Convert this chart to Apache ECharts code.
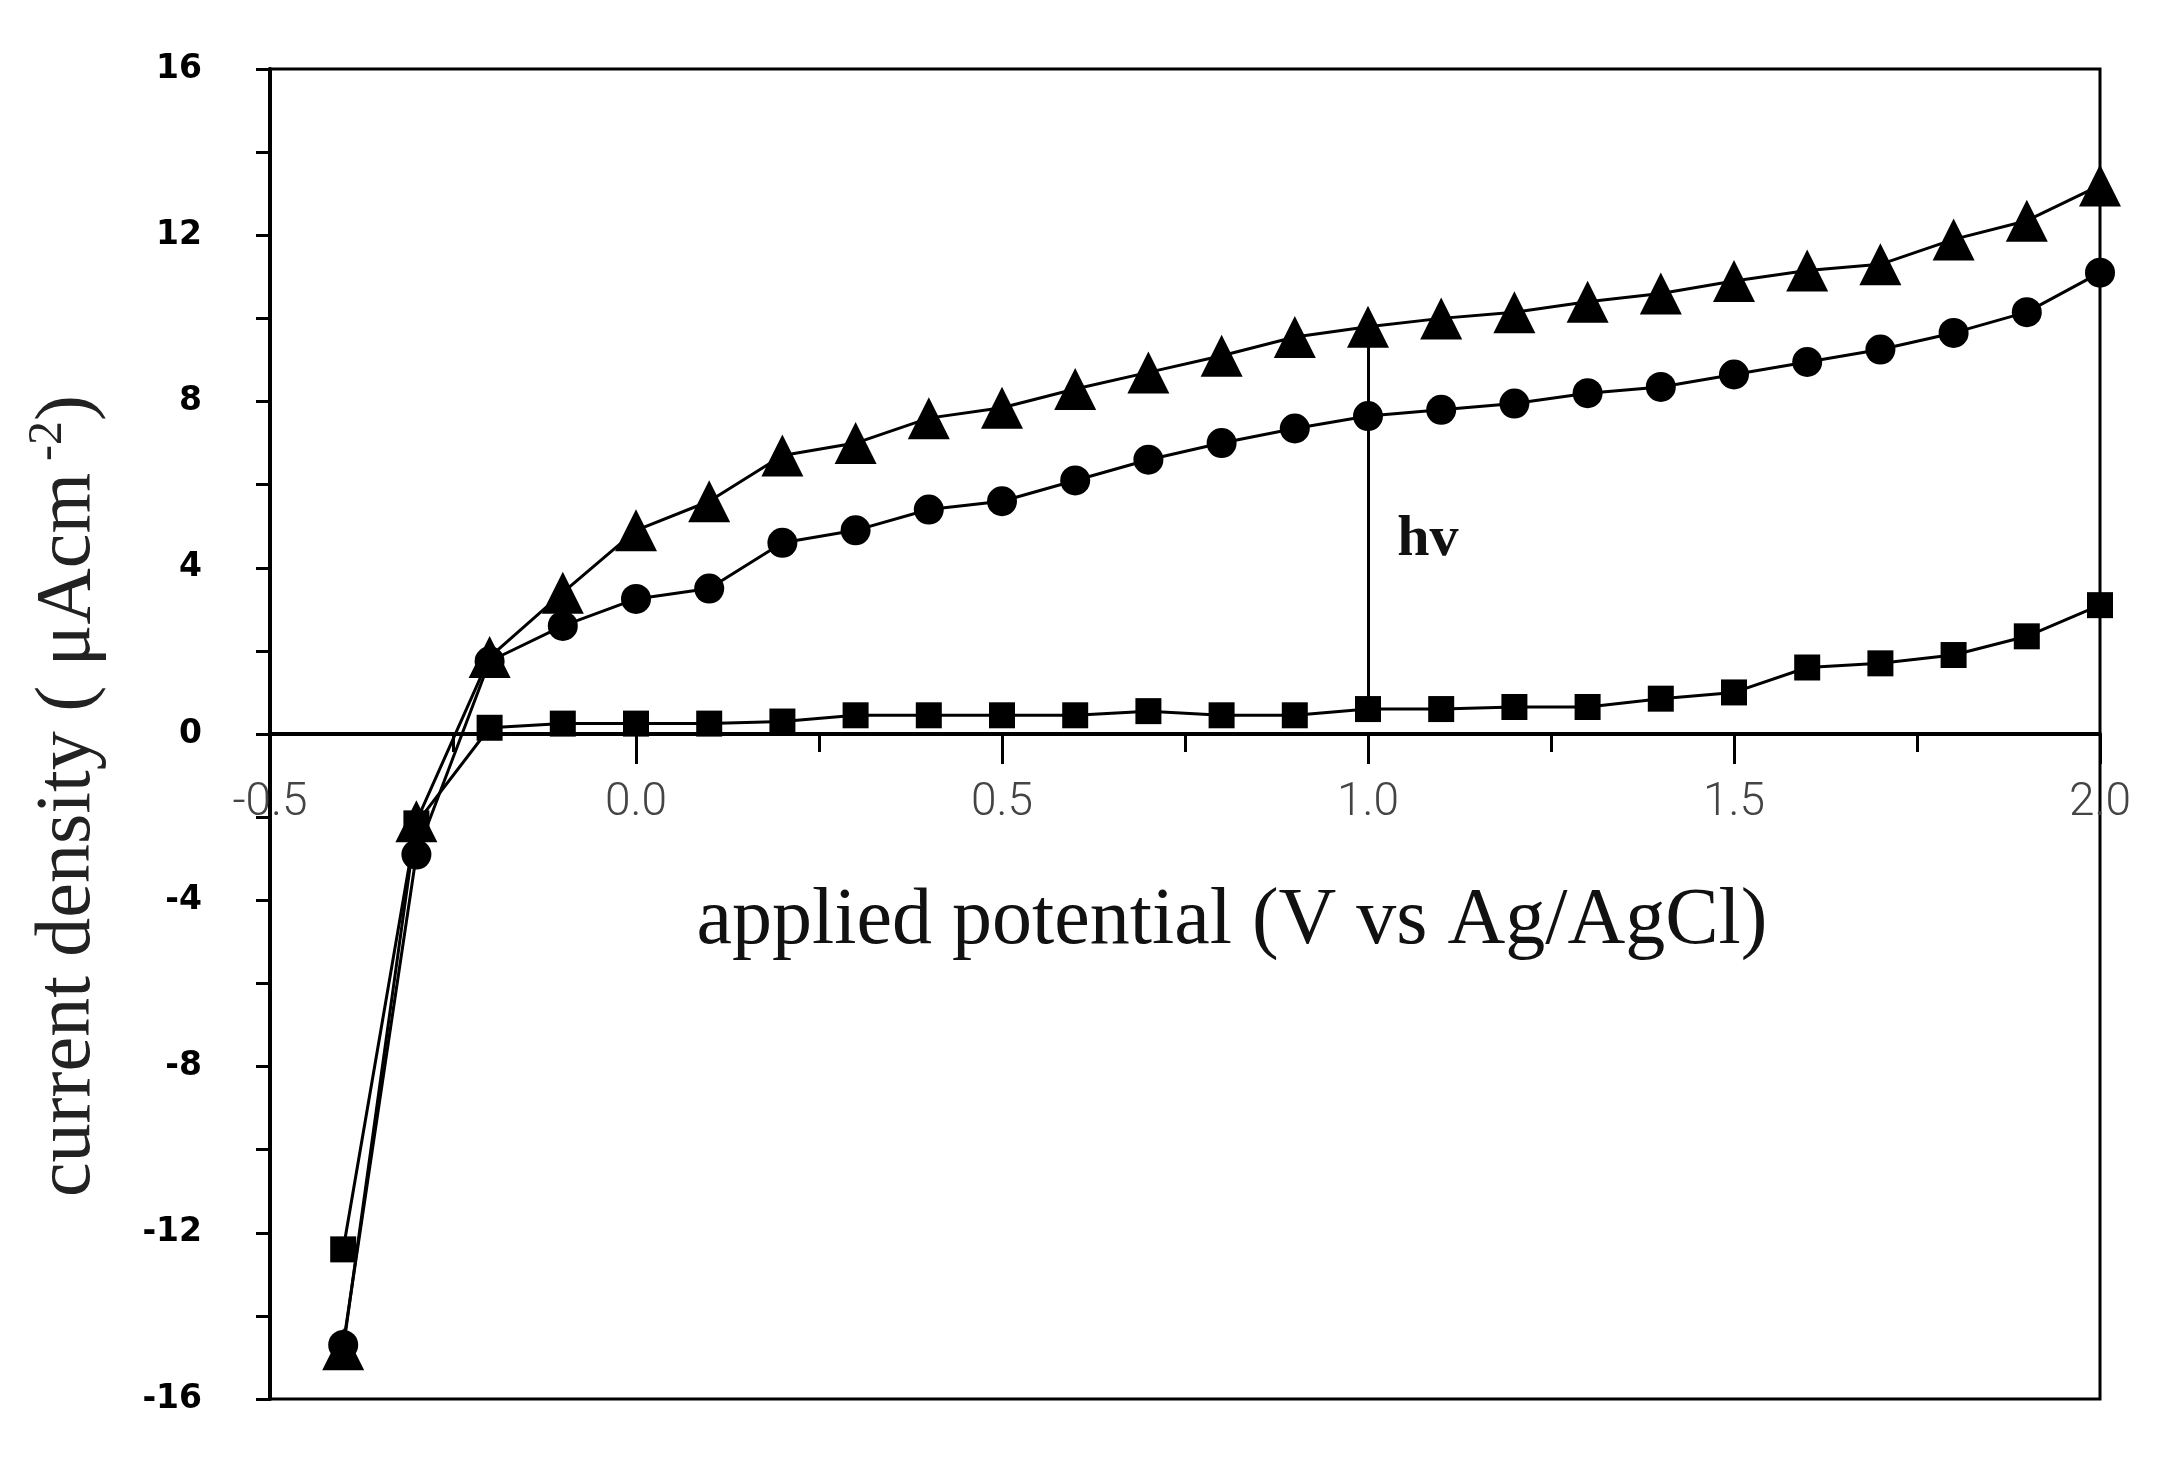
<!DOCTYPE html>
<html>
<head>
<meta charset="utf-8">
<script src="https://cdn.jsdelivr.net/npm/echarts@6/dist/echarts.min.js"></script>
<style>
html,body{margin:0;padding:0;background:#fff;}
#chart{width:2160px;height:1472px;}
</style>
</head>
<body>
<div id="chart"></div>
<script>
// applied potential (V vs Ag/AgCl)
const potentials = [-0.4,-0.3,-0.2,-0.1,0.0,0.1,0.2,0.3,0.4,0.5,0.6,0.7,0.8,0.9,1.0,1.1,1.2,1.3,1.4,1.5,1.6,1.7,1.8,1.9,2.0];
// current density, squares (dark)
const darkCurrent = [-12.4,-2.15,0.15,0.25,0.25,0.25,0.3,0.45,0.45,0.45,0.45,0.55,0.45,0.45,0.6,0.6,0.65,0.65,0.85,1.0,1.6,1.7,1.9,2.35,3.1];
// current density, circles (middle curve)
const midCurrent = [-14.7,-2.9,1.75,2.6,3.25,3.5,4.6,4.9,5.4,5.6,6.1,6.6,7.0,7.35,7.65,7.8,7.95,8.2,8.35,8.65,8.95,9.25,9.65,10.15,11.1];
// current density, triangles (top curve)
const topCurrent = [-14.8,-2.1,1.85,3.4,4.9,5.6,6.7,7.0,7.6,7.85,8.3,8.7,9.1,9.55,9.8,10.0,10.15,10.4,10.6,10.9,11.15,11.3,11.9,12.35,13.2];
// hv arrow: from dark curve to illuminated curve at 1.0 V
const hvArrowX = 1.0;
const hvArrowFrom = 0.6;
const hvArrowTo = 9.8;
const hvLabel = 'hv';
const hvLabelPos = [1.04, 4.67];

const pairs = (ys) => potentials.map((x, i) => [x, ys[i]]);

const chart = echarts.init(document.getElementById('chart'));
const lineStyle = {color: '#000', width: 3};
const GRID_TOP = 69, GRID_BOTTOM = 73, H = 1472;
const zeroOffset = -((H - GRID_TOP - GRID_BOTTOM) / 2);
const option = {
  animation: false,
  backgroundColor: '#fff',
  grid: {left: 270, right: 60, top: GRID_TOP, bottom: GRID_BOTTOM, containLabel: false,
         outerBoundsMode: 'none',
         show: true, borderColor: '#000', borderWidth: 3, backgroundColor: '#fff'},
  xAxis: {
    type: 'value', min: -0.5, max: 2.0, interval: 0.5, position: 'bottom', offset: zeroOffset,
    axisLine: {onZero: false, lineStyle: {color: '#000', width: 4}},
    axisTick: {show: true, inside: false, length: 30, lineStyle: {color: '#000', width: 3}},
    minorTick: {show: true, splitNumber: 2, length: 18, lineStyle: {color: '#000', width: 3}},
    splitLine: {show: false},
    axisLabel: {margin: 46, fontFamily: 'Roboto', fontWeight: 300, fontSize: 46, color: '#444',
                formatter: v => v.toFixed(1)},
    name: 'applied potential (V vs Ag/AgCl)',
    nameLocation: 'middle', nameGap: 148,
    nameTextStyle: {fontFamily: 'Liberation Serif', fontSize: 80, color: '#111', padding: [0, 0, 0, 94]}
  },
  yAxis: {
    type: 'value', min: -16, max: 16, interval: 2,
    axisLine: {show: true, onZero: false, lineStyle: {color: '#000', width: 4}},
    axisTick: {show: true, inside: false, length: 14, lineStyle: {color: '#000', width: 3}},
    splitLine: {show: false},
    axisLabel: {margin: 68, fontFamily: 'DejaVu Sans', fontWeight: 'bold', fontSize: 33, color: '#000',
                formatter: v => (v % 4 === 0 ? String(v) : '')},
    name: '{a|current density ( μAcm}{s| -2}{a|)}',
    nameLocation: 'middle', nameGap: 156, nameRotate: 90,
    nameTextStyle: {
      padding: [0, 0, 0, -124],
      rich: {
        a: {fontFamily: 'Liberation Serif', fontSize: 78, color: '#222', lineHeight: 90},
        s: {fontFamily: 'Liberation Serif', fontSize: 48, color: '#222', lineHeight: 90, verticalAlign: 'top'}
      }
    }
  },
  series: [
    {
      type: 'line', data: pairs(darkCurrent), symbol: 'rect', symbolSize: 26,
      itemStyle: {color: '#000'}, lineStyle: lineStyle, z: 3
    },
    {
      type: 'line', data: pairs(midCurrent), symbol: 'circle', symbolSize: 30,
      itemStyle: {color: '#000'}, lineStyle: lineStyle, z: 3
    },
    {
      type: 'line', data: pairs(topCurrent), symbol: 'triangle', symbolSize: 42,
      itemStyle: {color: '#000'}, lineStyle: lineStyle, z: 3,
      markLine: {
        silent: true, symbol: ['none', 'none'], animation: false,
        lineStyle: {color: '#000', width: 3, type: 'solid'},
        label: {show: false},
        data: [[{coord: [hvArrowX, hvArrowFrom]}, {coord: [hvArrowX, hvArrowTo]}]]
      },
      markPoint: {
        silent: true, symbol: 'circle', symbolSize: 0,
        label: {show: true, formatter: hvLabel, position: 'right', distance: 0,
                fontFamily: 'Liberation Serif', fontWeight: 'bold', fontSize: 58, color: '#111'},
        data: [{coord: hvLabelPos, value: 0}]
      }
    }
  ]
};
chart.setOption(option);
</script>
</body>
</html>
